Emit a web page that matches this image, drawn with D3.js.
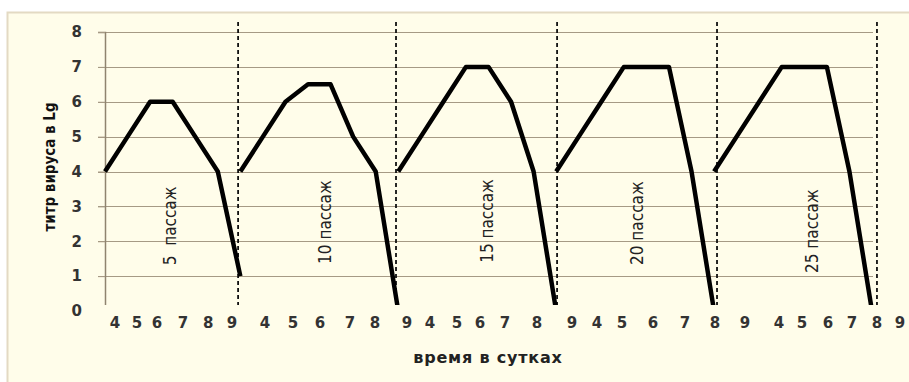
<!DOCTYPE html>
<html>
<head>
<meta charset="utf-8">
<script src="https://cdn.jsdelivr.net/npm/d3@7"></script>
<style>
  html, body { margin: 0; padding: 0; background: #fff; }
  svg { display: block; }
</style>
</head>
<body>
<svg id="chart" width="909" height="382"></svg>
<script>
// titre of virus (lg) per passage, one point per day-category
const passNames = ["5  пассаж", "10 пассаж", "15 пассаж", "20 пассаж", "25 пассаж"];
const passStart = [0, 6, 13, 20, 27];
const pass5  = [4, 5, 6, 6, 5, 4, 1];
const pass10 = [4, 5, 6, 6.5, 6.5, 5, 4, 0];
const pass15 = [4, 5, 6, 7, 7, 6, 4, 0];
const pass20 = [4, 5, 6, 7, 7, 7, 4, 0];
const pass25 = [4, 5, 6, 7, 7, 7, 4, 0];

// dashed separators between passages (category units)
const separators = [5.9, 12.9, 20.04, 27.13, 34.22];

// passage label anchor (category, value)
const labelCat = [2.88, 9.75, 16.93, 23.58, 31.34];
const labelVal = [2.44, 2.55, 2.58, 2.52, 2.29];

// x tick labels ("days") and where they sit (category units)
const dayLabels = ["4","5","6","7","8","9", "4","5","6","7","8","9", "4","5","6","7","8","9",
                   "4","5","6","7","8","9", "4","5","6","7","8","9"];
const dayPos = [0.44, 1.42, 2.30, 3.46, 4.57, 5.63,
                7.09, 8.33, 9.53, 10.86, 11.97, 13.39,
                14.41, 15.60, 16.62, 17.73, 19.15, 20.70,
                21.81, 22.92, 24.29, 25.71, 27.04, 28.37,
                29.88, 30.90, 32.05, 33.11, 34.22, 35.24];

const yTicks = [0, 1, 2, 3, 4, 5, 6, 7, 8];

const svg = d3.select("#chart");

const x = d3.scaleLinear().domain([0, 34]).range([105, 872]);
const y = d3.scaleLinear().domain([0, 8]).range([311, 32]);

// chart area frame
svg.append("rect")
    .attr("x", 7.5).attr("y", 12.5)
    .attr("width", 940).attr("height", 420)
    .attr("fill", "#fffdea")
    .attr("stroke", "#e3dac3")
    .attr("stroke-width", 2);

// gridlines
svg.append("g")
    .selectAll("line")
    .data(yTicks.filter(d => d > 0))
    .join("line")
    .attr("x1", 98).attr("x2", x(34) + 1)
    .attr("y1", d => Math.round(y(d)) + 0.5)
    .attr("y2", d => Math.round(y(d)) + 0.5)
    .attr("stroke", "#a69a85")
    .attr("stroke-width", 1);

// y axis
const yAxis = svg.append("g")
    .attr("transform", `translate(${x(0)},0)`)
    .call(d3.axisLeft(y).tickValues(yTicks).tickSize(7).tickPadding(16));
yAxis.select(".domain").attr("stroke", "#8f846f").attr("stroke-width", 1.5);
yAxis.selectAll(".tick line").attr("stroke", "#a69a85");
yAxis.selectAll(".tick text")
    .attr("font-family", "'DejaVu Sans', Verdana, sans-serif")
    .attr("font-size", 15)
    .attr("font-weight", "bold")
    .attr("fill", "#333");

// dashed separators
svg.append("g")
    .selectAll("line")
    .data(separators)
    .join("line")
    .attr("x1", d => x(d)).attr("x2", d => x(d))
    .attr("y1", 22).attr("y2", y(0))
    .attr("stroke", "#111")
    .attr("stroke-width", 1.8)
    .attr("stroke-dasharray", "4,3");

// passage curves
const series = [pass5, pass10, pass15, pass20, pass25];
const line = d3.line()
    .x(d => x(d.cat))
    .y(d => y(d.v));

svg.append("g")
    .selectAll("path")
    .data(series.map((s, i) => s.map((v, j) => ({cat: passStart[i] + j, v}))))
    .join("path")
    .attr("d", line)
    .attr("fill", "none")
    .attr("stroke", "#000")
    .attr("stroke-width", 4.5)
    .attr("stroke-linejoin", "round");

// passage labels
svg.append("g")
    .selectAll("text")
    .data(passNames)
    .join("text")
    .attr("transform", (d, i) => `translate(${x(labelCat[i])},${y(labelVal[i])}) rotate(-90)`)
    .attr("text-anchor", "middle")
    .attr("dy", "0.35em")
    .attr("font-family", "'Liberation Sans Narrow', 'DejaVu Sans Condensed', 'Arial Narrow', sans-serif")
    .attr("font-size", 17)
    .attr("fill", "#222")
    .style("white-space", "pre")
    .text(d => d);

// text box with the day labels (covers the foot of the plot)
svg.append("rect")
    .attr("x", 92).attr("y", 305)
    .attr("width", 817).attr("height", 40)
    .attr("fill", "#fffdea");

svg.append("g")
    .selectAll("text")
    .data(dayLabels)
    .join("text")
    .attr("x", (d, i) => x(dayPos[i]))
    .attr("y", 323)
    .attr("dy", "0.35em")
    .attr("text-anchor", "middle")
    .attr("font-family", "'DejaVu Sans', Verdana, sans-serif")
    .attr("font-size", 15)
    .attr("font-weight", "bold")
    .attr("fill", "#333")
    .text(d => d);

// axis titles
svg.append("text")
    .attr("x", 488).attr("y", 357)
    .attr("dy", "0.35em")
    .attr("text-anchor", "middle")
    .attr("font-family", "'DejaVu Sans', Verdana, sans-serif")
    .attr("font-size", 16)
    .attr("font-weight", "bold")
    .attr("letter-spacing", 0.8)
    .attr("fill", "#222")
    .text("время в сутках");

svg.append("text")
    .attr("transform", "translate(50,167) rotate(-90)")
    .attr("dy", "0.35em")
    .attr("text-anchor", "middle")
    .attr("font-family", "'Liberation Sans Narrow', 'DejaVu Sans Condensed', 'Arial Narrow', sans-serif")
    .attr("font-size", 15)
    .attr("font-weight", "bold")
    .attr("fill", "#111")
    .text("титр вируса в Lg");
</script>
</body>
</html>
